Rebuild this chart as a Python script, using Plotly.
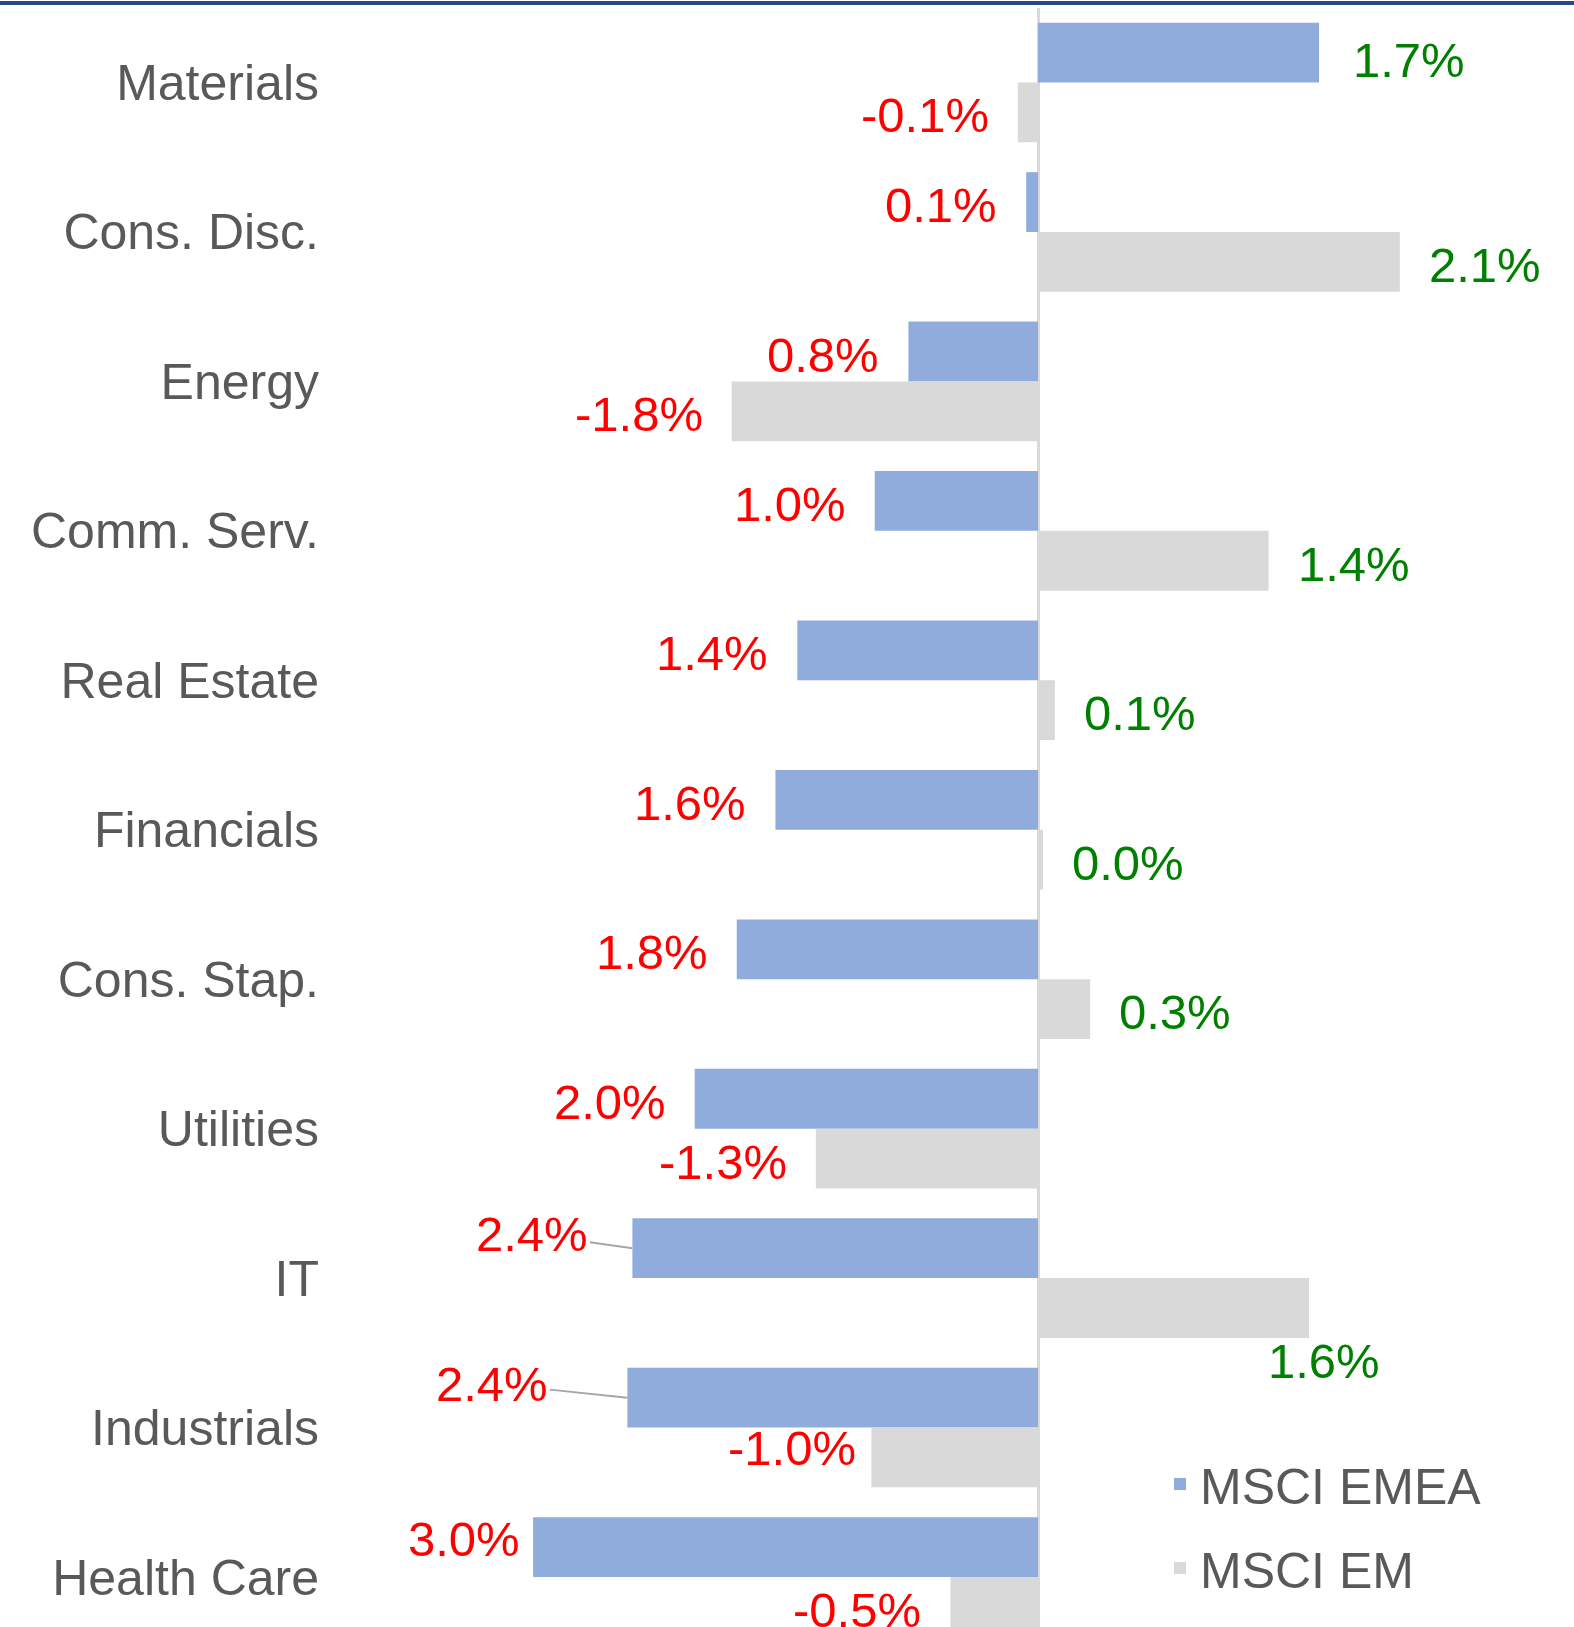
import plotly.graph_objects as go

# ---------------- data ----------------
categories = ["Materials", "Cons. Disc.", "Energy", "Comm. Serv.", "Real Estate",
              "Financials", "Cons. Stap.", "Utilities", "IT", "Industrials", "Health Care"]
msci_emea = [1.67, -0.07, -0.77, -0.97, -1.43, -1.56, -1.79, -2.04, -2.41, -2.44, -3.00]
msci_em = [-0.12, 2.15, -1.82, 1.37, 0.10, 0.03, 0.31, -1.32, 1.61, -0.99, -0.52]
series_names = ["MSCI EMEA", "MSCI EM"]

# ---------------- styles ----------------
FONT = "Liberation Sans, Arial, sans-serif"
BLUE = "#8FACDC"
GREY = "#D9D9D9"
RED = "#FF0000"
GREEN = "#008000"
TEXT_GREY = "#595959"

W, H = 1574, 1627
ML, MR, MT, MB = 330, 0, 8, 0
PX_PER_PCT = 168.3
ZERO_X = 1038
x_lo = (ML - ZERO_X) / PX_PER_PCT
x_hi = (W - MR - ZERO_X) / PX_PER_PCT
# category axis: first category centre at y=82.5 px, spacing 149.45 px
cat_step = 149.45
y_top = -(82.5 - MT) / cat_step
y_bot = (H - MB - 82.5) / cat_step

fig = go.Figure()
fig.add_trace(go.Bar(y=categories, x=msci_emea, orientation="h", name=series_names[0],
                     marker=dict(color=BLUE, line=dict(width=0)), legendgroup="a"))
fig.add_trace(go.Bar(y=categories, x=msci_em, orientation="h", name=series_names[1],
                     marker=dict(color=GREY, line=dict(width=0)), legendgroup="b"))

# label placement tweaks (mimicking the manually moved labels in the source)
tweaks = {
    ("emea", "Materials"): dict(xshift=32, yshift=-7),
    ("em", "IT"): dict(xanchor="center", xshift=15, yshift=-53),
    ("em", "Industrials"): dict(xshift=-13, yshift=9),
    ("emea", "Health Care"): dict(xshift=-11, yshift=8),
}
leaders = {
    ("emea", "IT"): dict(ax=-100, ay=-14),
    ("emea", "Industrials"): dict(ax=-135, ay=-14),
}

annotations = []
for key, vals, off, absolute in (("emea", msci_emea, -0.2, True), ("em", msci_em, 0.2, False)):
    for i, (cat, v) in enumerate(zip(categories, vals)):
        txt = f"{abs(v) if absolute else v:.1f}%"
        col = RED if v < 0 else GREEN
        base = dict(x=v, y=i + off, xref="x", yref="y", text=txt,
                    font=dict(family=FONT, size=49, color=col))
        if (key, cat) in leaders:
            base.update(showarrow=True, arrowhead=0, arrowwidth=2, arrowcolor="#A6A6A6",
                        standoff=0, axref="pixel", ayref="pixel", **leaders[(key, cat)])
        else:
            base.update(showarrow=False, xanchor="left" if v >= 0 else "right",
                        xshift=27 if v >= 0 else -27, yshift=-3)
            base.update(tweaks.get((key, cat), {}))
        annotations.append(base)

fig.update_layout(
    width=W, height=H,
    margin=dict(l=ML, r=MR, t=MT, b=MB),
    paper_bgcolor="white", plot_bgcolor="white",
    barmode="group", bargap=0.2, bargroupgap=0,
    font=dict(family=FONT, color=TEXT_GREY),
    xaxis=dict(range=[x_lo, x_hi], showgrid=False, showticklabels=False, ticks="",
               zeroline=True, zerolinecolor="#D9D9D9", zerolinewidth=2.5, showline=False),
    yaxis=dict(type="category", categoryorder="array", categoryarray=categories,
               range=[y_bot, y_top], showgrid=False, ticks="", showline=False, zeroline=False,
               tickfont=dict(family=FONT, size=50, color=TEXT_GREY), ticklabelstandoff=10),
    legend=dict(x=(1160 - ML) / (W - ML - MR), xanchor="left",
                y=(H - 1445) / (H - MT - MB), yanchor="top",
                font=dict(family=FONT, size=50, color=TEXT_GREY),
                bgcolor="rgba(0,0,0,0)", tracegroupgap=16, traceorder="grouped"),
    annotations=annotations,
    shapes=[dict(type="line", xref="paper", yref="paper",
                 x0=-ML / (W - ML - MR), x1=1.02,
                 y0=(H - 3) / (H - MT - MB), y1=(H - 3) / (H - MT - MB),
                 line=dict(color="#264A8A", width=4))],
    showlegend=True,
)

fig.write_html("out.html", config={"displayModeBar": False},
               post_script="document.body.style.margin='0px';document.body.style.padding='0px';")
